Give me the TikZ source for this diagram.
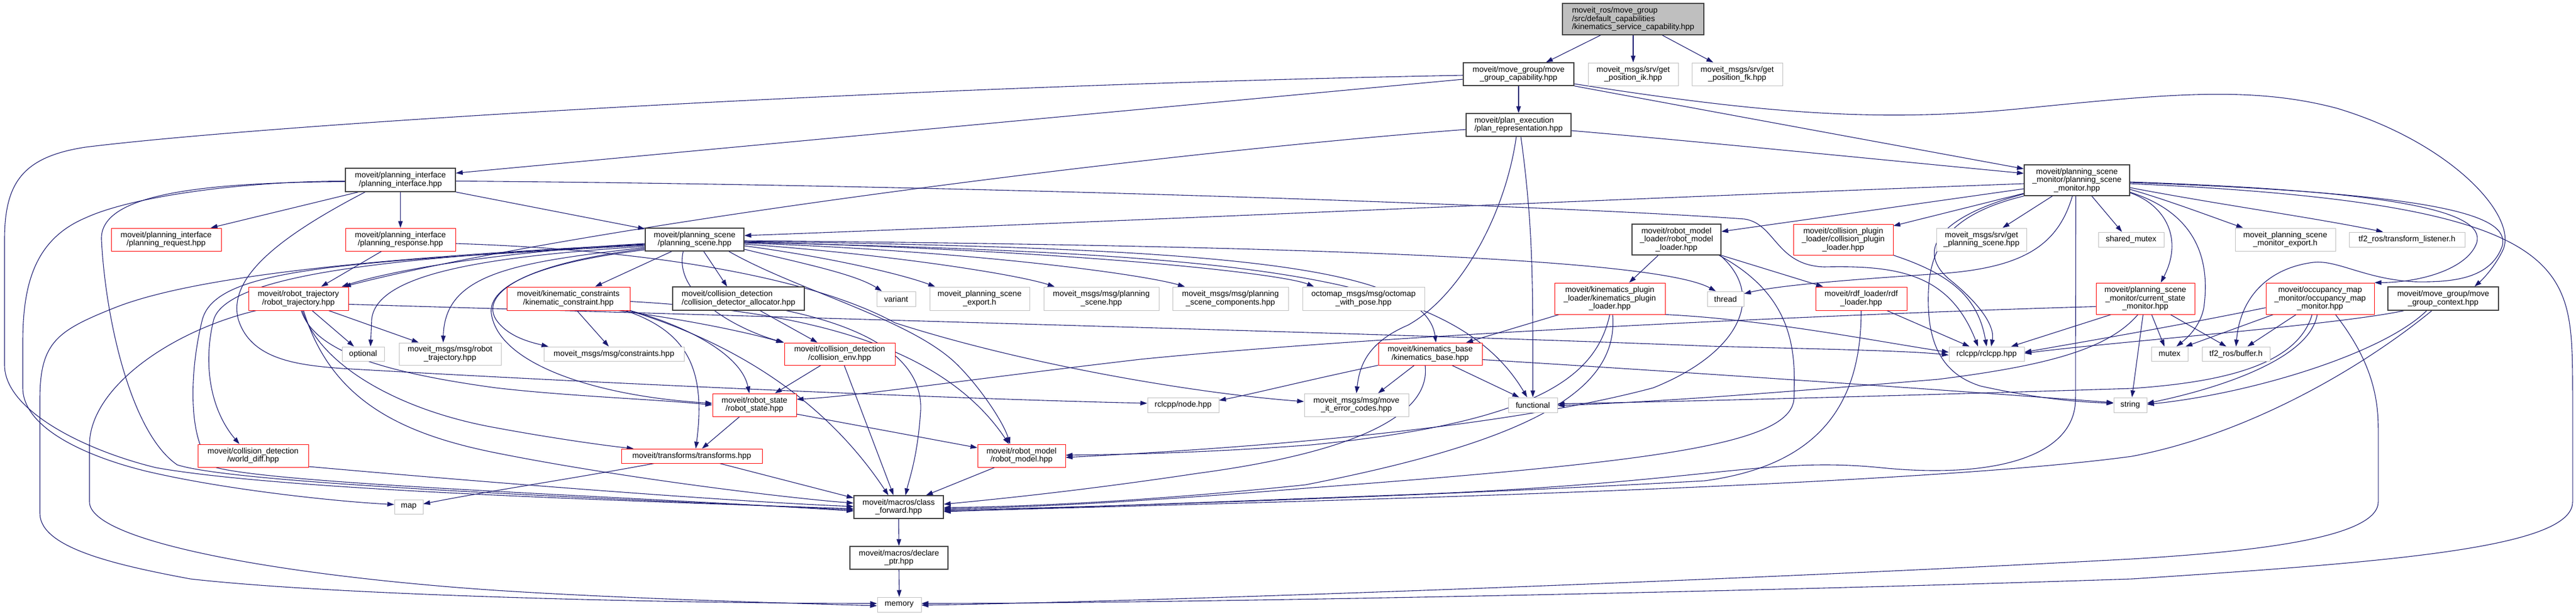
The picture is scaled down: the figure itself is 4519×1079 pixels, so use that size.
\documentclass[tikz,border=0pt]{standalone}
\usepackage{fontspec}
\setmainfont{Liberation Sans}
\usetikzlibrary{arrows.meta}
\definecolor{ec}{HTML}{191970}
\definecolor{gb}{HTML}{BFBFBF}
\definecolor{db}{HTML}{404040}
\pgfdeclarelayer{bg}
\pgfsetlayers{bg,main}
\tikzset{
 base/.style={rectangle, inner sep=0pt, font=\fontsize{14}{14.5}\selectfont, align=center, line width=1pt, fill=white},
 bn/.style={base, draw=db, line width=1.4pt},
 rn/.style={base, draw=red},
 gn/.style={base, draw=gb},
 e/.style={draw=ec, line width=1.1pt, -{Triangle[length=12pt,width=8pt]}},
}
\begin{document}
\begin{tikzpicture}[x=1pt,y=-1pt]
\useasboundingbox (0,0) rectangle (4519,1079);
% nodes
\node[bn, fill=gb, align=left, minimum width=248pt, minimum height=55pt] (root) at (2865,33.5) {moveit\_ros/move\_group\\/src/default\_capabilities\\/kinematics\_service\_capability.hpp};
\node[bn, minimum width=194pt, minimum height=40pt] (mgcap) at (2664,130) {moveit/move\_group/move\\\_group\_capability.hpp};
\node[gn, minimum width=158pt, minimum height=40pt] (gpik) at (2865,130) {moveit\_msgs/srv/get\\\_position\_ik.hpp};
\node[gn, minimum width=159pt, minimum height=40pt] (gpfk) at (3047.5,130) {moveit\_msgs/srv/get\\\_position\_fk.hpp};
\node[bn, align=left, minimum width=184pt, minimum height=40pt] (planrep) at (2664,219) {moveit/plan\_execution\\/plan\_representation.hpp};
\node[bn, minimum width=193pt, minimum height=41pt] (pi) at (702.5,315.5) {moveit/planning\_interface\\/planning\_interface.hpp};
\node[bn, minimum width=185pt, minimum height=54pt] (psm) at (3643.5,316) {moveit/planning\_scene\\\_monitor/planning\_scene\\\_monitor.hpp};
\node[rn, minimum width=193pt, minimum height=40pt] (preq) at (291.5,420) {moveit/planning\_interface\\/planning\_request.hpp};
\node[rn, minimum width=193pt, minimum height=40pt] (presp) at (702.5,420) {moveit/planning\_interface\\/planning\_response.hpp};
\node[bn, minimum width=173pt, minimum height=40pt] (ps) at (1218.5,420) {moveit/planning\_scene\\/planning\_scene.hpp};
\node[bn, minimum width=156pt, minimum height=54pt] (rml) at (2941,420) {moveit/robot\_model\\\_loader/robot\_model\\\_loader.hpp};
\node[rn, minimum width=175pt, minimum height=54pt] (cpl) at (3233.5,420) {moveit/collision\_plugin\\\_loader/collision\_plugin\\\_loader.hpp};
\node[gn, minimum width=158pt, minimum height=40pt] (gps) at (3476,420) {moveit\_msgs/srv/get\\\_planning\_scene.hpp};
\node[gn, minimum width=115pt, minimum height=26pt] (smutex) at (3738.5,420) {shared\_mutex};
\node[gn, minimum width=176pt, minimum height=40pt] (psme) at (4009,420) {moveit\_planning\_scene\\\_monitor\_export.h};
\node[gn, minimum width=203pt, minimum height=26pt] (tfl) at (4222.5,420) {tf2\_ros/transform\_listener.h};
\node[rn, minimum width=175pt, minimum height=41pt] (rtraj) at (523.5,523.5) {moveit/robot\_trajectory\\/robot\_trajectory.hpp};
\node[rn, minimum width=216pt, minimum height=41pt] (kc) at (997,523.5) {moveit/kinematic\_constraints\\/kinematic\_constraint.hpp};
\node[bn, align=left, minimum width=231pt, minimum height=41pt] (cda) at (1295.5,523.5) {moveit/collision\_detection\\/collision\_detector\_allocator.hpp};
\node[gn, minimum width=68pt, minimum height=26pt] (variant) at (1572,524) {variant};
\node[gn, minimum width=175pt, minimum height=41pt] (pse) at (1718.5,523.5) {moveit\_planning\_scene\\\_export.h};
\node[gn, minimum width=202pt, minimum height=41pt] (mps) at (1932,523.5) {moveit\_msgs/msg/planning\\\_scene.hpp};
\node[gn, minimum width=203pt, minimum height=41pt] (mpsc) at (2158.5,523.5) {moveit\_msgs/msg/planning\\\_scene\_components.hpp};
\node[gn, minimum width=214pt, minimum height=41pt] (octo) at (2392,523.5) {octomap\_msgs/msg/octomap\\\_with\_pose.hpp};
\node[rn, minimum width=194pt, minimum height=55pt] (kpl) at (2824,523.5) {moveit/kinematics\_plugin\\\_loader/kinematics\_plugin\\\_loader.hpp};
\node[gn, minimum width=64pt, minimum height=26pt] (thread) at (3027,524) {thread};
\node[rn, minimum width=160pt, minimum height=41pt] (rdf) at (3265,523.5) {moveit/rdf\_loader/rdf\\\_loader.hpp};
\node[rn, minimum width=173pt, minimum height=55pt] (csm) at (3763.5,523.5) {moveit/planning\_scene\\\_monitor/current\_state\\\_monitor.hpp};
\node[rn, minimum width=190pt, minimum height=55pt] (omm) at (4070,523.5) {moveit/occupancy\_map\\\_monitor/occupancy\_map\\\_monitor.hpp};
\node[bn, minimum width=194pt, minimum height=41pt] (mgc) at (4286,523.5) {moveit/move\_group/move\\\_group\_context.hpp};
\node[gn, minimum width=74pt, minimum height=25pt] (optional) at (637,620.5) {optional};
\node[gn, minimum width=179pt, minimum height=39pt] (mrt) at (789.5,620.5) {moveit\_msgs/msg/robot\\\_trajectory.hpp};
\node[gn, minimum width=246pt, minimum height=25pt] (cons) at (1077,620.5) {moveit\_msgs/msg/constraints.hpp};
\node[rn, minimum width=194pt, minimum height=39pt] (cenv) at (1473,620.5) {moveit/collision\_detection\\/collision\_env.hpp};
\node[rn, minimum width=182pt, minimum height=39pt] (kbase) at (2509,620.5) {moveit/kinematics\_base\\/kinematics\_base.hpp};
\node[gn, minimum width=132pt, minimum height=25pt] (rclcpp) at (3485,620.5) {rclcpp/rclcpp.hpp};
\node[gn, minimum width=64pt, minimum height=25pt] (mutex) at (3806,620.5) {mutex};
\node[gn, minimum width=119pt, minimum height=25pt] (buffer) at (3922.5,620.5) {tf2\_ros/buffer.h};
\node[rn, minimum width=147pt, minimum height=40pt] (rstate) at (1323.5,710) {moveit/robot\_state\\/robot\_state.hpp};
\node[gn, minimum width=125pt, minimum height=26pt] (node) at (2075.5,710) {rclcpp/node.hpp};
\node[gn, minimum width=183pt, minimum height=40pt] (errc) at (2379.5,710) {moveit\_msgs/msg/move\\\_it\_error\_codes.hpp};
\node[gn, minimum width=86pt, minimum height=26pt] (functional) at (2689,710) {functional};
\node[gn, minimum width=58pt, minimum height=26pt] (string) at (3737,710) {string};
\node[rn, minimum width=194pt, minimum height=40pt] (wdiff) at (444,799) {moveit/collision\_detection\\/world\_diff.hpp};
\node[rn, minimum width=247pt, minimum height=25pt] (transforms) at (1213.5,799.5) {moveit/transforms/transforms.hpp};
\node[rn, minimum width=154pt, minimum height=40pt] (rmodel) at (1792,799) {moveit/robot\_model\\/robot\_model.hpp};
\node[gn, minimum width=50pt, minimum height=25pt] (map) at (717,888.5) {map};
\node[bn, minimum width=157pt, minimum height=40pt] (cf) at (1576.5,889) {moveit/macros/class\\\_forward.hpp};
\node[bn, minimum width=172pt, minimum height=40pt] (dp) at (1577,978) {moveit/macros/declare\\\_ptr.hpp};
\node[gn, minimum width=77pt, minimum height=26pt] (memory) at (1577.5,1060) {memory};
\begin{pgfonlayer}{bg}
% root
\draw[e] ([xshift=-57pt]root.south) -- ([xshift=48pt]mgcap.north);
\draw[e] (root.south) -- (gpik.north);
\draw[e] ([xshift=51pt]root.south) -- ([xshift=-42pt]gpfk.north);
% mgcap
\draw[e] (mgcap.south) -- (planrep.north);
\draw[e] ([yshift=-9pt]mgcap.west) -- ([yshift=12pt]pi.east);
\draw[e] ([yshift=-2pt]mgcap.west) .. controls (1600,150) and (500,215) .. (150,258) .. controls (40,275) and (8,320) .. (8,420) -- (8,640) .. controls (8,720) and (150,790) .. (274,820) .. controls (500,860) and (1100,878) .. ([yshift=-3pt]cf.west);
\draw[e] (mgcap.south east) .. controls (3000,195) and (3300,250) .. ([yshift=20pt]psm.west);
\draw[e] ([yshift=-17pt]mgcap.east) .. controls (3100,200) and (3300,215) .. (3550,190) .. controls (3800,165) and (3950,150) .. (4100,190) .. controls (4300,250) and (4420,380) .. (4390,440) .. controls (4375,470) and (4355,490) .. ([xshift=55pt]mgc.north);
% planrep
\draw[e] ([yshift=-8pt]planrep.west) .. controls (2000,270) and (1000,400) .. ([xshift=-8pt]rtraj.north east);
\draw[e] ([yshift=-10pt]planrep.east) .. controls (3000,250) and (3300,280) .. ([yshift=12pt]psm.west);
\draw[e] ([xshift=-4pt]planrep.south) .. controls (2640,380) and (2560,520) .. (2470,570) .. controls (2400,600) and (2385,640) .. (errc.north);
\draw[e] ([xshift=4pt]planrep.south) .. controls (2690,400) and (2689,500) .. (functional.north);
% pi
\draw[e] ([yshift=-2pt]pi.west) .. controls (420,318) and (230,345) .. (150,382) .. controls (60,420) and (40,500) .. (40,600) -- (40,680) .. controls (40,750) and (150,800) .. (256,826) .. controls (400,860) and (600,880) .. ([yshift=4pt]map.west);
\draw[e] ([xshift=-74pt]pi.south) -- ([xshift=78pt]preq.north);
\draw[e] (pi.south) -- (presp.north);
\draw[e] (pi.south east) -- ([yshift=-2pt]ps.north west);
\draw[e] ([yshift=-3pt]pi.west) .. controls (330,320) and (175,345) .. (178,420) .. controls (185,560) and (230,760) .. (311,815) .. controls (420,850) and (1100,875) .. ([yshift=-5pt]cf.west);
\draw[e] ([xshift=-62pt]pi.south) .. controls (480,420) and (400,490) .. (418,560) .. controls (440,630) and (520,640) .. (600,646) .. controls (1100,675) and (1700,700) .. ([yshift=3pt]node.west);
\draw[e] ([yshift=-2pt]pi.east) .. controls (1800,325) and (2800,365) .. (3060,384) .. controls (3115,392) and (3115,465) .. (3200,468) .. controls (3330,465) and (3420,480) .. ([xshift=-15pt]rclcpp.north);
% presp
\draw[e] ([xshift=-33pt]presp.south) -- ([xshift=40pt]rtraj.north);
\draw[e] ([yshift=-7pt]presp.east) .. controls (1200,440) and (1450,500) .. (1570,566) .. controls (1800,640) and (2100,690) .. ([yshift=6pt]errc.west);
% ps
\draw[e] ([yshift=-7pt]ps.west) .. controls (900,440) and (700,470) .. ([xshift=-12pt]rtraj.north east);
\draw[e] ([xshift=-40pt]ps.south) -- ([xshift=47pt]kc.north);
\draw[e] ([xshift=16pt]ps.south) -- ([xshift=-20pt]cda.north);
\draw[e] ([yshift=-17pt]ps.east) .. controls (1400,460) and (1500,480) .. ([xshift=-25pt]variant.north);
\draw[e] ([yshift=-11pt]ps.east) .. controls (1450,450) and (1580,480) .. ([xshift=-78pt]pse.north);
\draw[e] ([yshift=-8pt]ps.east) .. controls (1550,445) and (1780,480) .. ([xshift=-82pt]mps.north);
\draw[e] ([yshift=-6pt]ps.east) .. controls (1700,440) and (2000,480) .. ([xshift=-80pt]mpsc.north);
\draw[e] ([yshift=-4pt]ps.east) .. controls (1900,440) and (2250,480) .. ([xshift=-87pt]octo.north);
\draw[e] ([yshift=-2pt]ps.east) .. controls (2200,430) and (2900,450) .. ([xshift=-17pt]thread.north);
\draw[e] ([yshift=-3pt]ps.east) .. controls (2100,435) and (2500,460) .. ([xshift=10pt]kbase.north);
\draw[e] ([yshift=-5pt]ps.east) .. controls (2200,445) and (2550,480) .. ([xshift=-10pt]functional.north);
\draw[e] ([yshift=-12pt]ps.west) .. controls (850,450) and (660,480) .. (652,560) -- ([xshift=13pt]optional.north);
\draw[e] ([yshift=-14pt]ps.west) .. controls (900,460) and (780,480) .. ([xshift=-12pt]mrt.north);
\draw[e] ([yshift=-16pt]ps.west) .. controls (900,465) and (845,520) .. (870,560) .. controls (890,590) and (930,600) .. ([xshift=-115pt]cons.north);
\draw[e] ([yshift=-9pt]ps.west) .. controls (700,450) and (400,480) .. (375,560) .. controls (355,640) and (370,720) .. ([xshift=-24pt]wdiff.north);
\draw[e] ([yshift=-10pt]ps.west) .. controls (600,460) and (380,470) .. (355,560) .. controls (330,660) and (330,790) .. (380,820) .. controls (500,850) and (1100,870) .. ([yshift=-7pt]cf.west);
\draw[e] ([yshift=-8pt]ps.west) .. controls (700,450) and (350,480) .. (200,540) .. controls (100,580) and (70,600) .. (70,700) -- (70,900) .. controls (70,960) and (200,990) .. (334,1015) .. controls (600,1045) and (1200,1058) .. ([yshift=2pt]memory.west);
\draw[e] ([yshift=-18pt]ps.west) .. controls (950,460) and (855,500) .. (862,550) .. controls (875,640) and (1050,695) .. ([yshift=3pt]rstate.west);
\draw[e] ([xshift=60pt]ps.south) .. controls (1400,510) and (1600,560) .. (1680,640) .. controls (1720,680) and (1760,740) .. ([xshift=-20pt]rmodel.north);
\draw[e] ([xshift=-20pt]ps.south) .. controls (1180,520) and (1300,580) .. (cenv.north west);
% rtraj
\draw[e] ([xshift=24pt]rtraj.south) -- ([xshift=-16pt]optional.north);
\draw[e] ([xshift=53pt]rtraj.south) -- ([xshift=-55pt]mrt.north);
\draw[e] ([xshift=5pt]rtraj.south) .. controls (550,610) and (650,650) .. (870,680) .. controls (1000,695) and (1150,700) .. (rstate.west);
\draw[e] ([xshift=7pt]rtraj.south) .. controls (560,640) and (700,720) .. (870,750) .. controls (950,765) and (1050,780) .. ([xshift=-102pt]transforms.north);
\draw[e] ([xshift=9pt]rtraj.south) .. controls (580,700) and (700,760) .. (870,794) .. controls (1100,840) and (1400,875) .. ([yshift=7pt]cf.west);
\draw[e] ([xshift=-74pt]rtraj.south) .. controls (300,580) and (157,680) .. (157,780) -- (157,880) .. controls (157,950) and (500,1010) .. (870,1035) .. controls (1100,1050) and (1400,1058) .. ([yshift=-2pt]memory.west);
\draw[e] ([yshift=-10pt]rtraj.east) .. controls (1500,560) and (2600,590) .. (3000,607) .. controls (3200,612) and (3350,615) .. ([yshift=-2pt]rclcpp.west);
% kc
\draw[e] ([xshift=15pt]kc.south) -- ([xshift=-9pt]cons.north);
\draw[e] ([xshift=88pt]kc.south) .. controls (1200,560) and (1300,580) .. ([xshift=-2pt]cenv.north west);
\draw[e] (kc.south east) .. controls (1200,570) and (1300,620) .. ([xshift=-9pt]rstate.north);
\draw[e] ([xshift=-8pt]kc.south east) .. controls (1200,580) and (1240,640) .. ([xshift=7pt]transforms.north);
\draw[e] ([xshift=-2pt]kc.south east) .. controls (1350,620) and (1480,750) .. ([xshift=-18pt]cf.north);
\draw[e] ([yshift=-5pt]kc.east) .. controls (1400,545) and (1650,600) .. ([xshift=-22pt]rmodel.north);
% cda
\draw[e] ([xshift=38pt]cda.south) -- ([xshift=-39pt]cenv.north);
\draw[e] ([xshift=84pt]cda.south) .. controls (1500,570) and (1620,620) .. (1615,720) .. controls (1610,800) and (1595,840) .. ([xshift=12pt]cf.north);
% cenv, rstate, transforms, wdiff, rmodel
\draw[e] ([xshift=-33pt]cenv.south) -- ([xshift=36pt]rstate.north);
\draw[e] ([xshift=8pt]cenv.south) -- ([xshift=-9pt]cf.north);
\draw[e] ([xshift=-26pt]rstate.south) -- ([xshift=18pt]transforms.north);
\draw[e] ([yshift=-16pt]rstate.east) -- ([yshift=14pt]rmodel.west);
\draw[e] ([xshift=-66pt]transforms.south) .. controls (1000,840) and (850,862) .. ([yshift=5pt]map.east);
\draw[e] ([xshift=49pt]transforms.south) -- ([yshift=16pt]cf.west);
\draw[e] ([yshift=-19pt]wdiff.east) .. controls (900,850) and (1300,880) .. ([yshift=1pt]cf.west);
\draw[e] ([xshift=-47pt]rmodel.south) -- ([xshift=48pt]cf.north);
\draw[e] (cf.south) -- (dp.north);
\draw[e] (dp.south) -- (memory.north);
% kbase
\draw[e] ([xshift=-28pt]kbase.south) -- ([xshift=38pt]errc.north);
\draw[e] ([xshift=38pt]kbase.south) -- ([xshift=-24pt]functional.north);
\draw[e] ([xshift=-9pt]kbase.south) .. controls (2510,720) and (2400,790) .. (2100,830) .. controls (1900,860) and (1750,875) .. ([yshift=5pt]cf.east);
\draw[e] ([yshift=-10pt]kbase.east) .. controls (3000,655) and (3500,690) .. ([yshift=4pt]string.west);
\draw[e] (kbase.south west) .. controls (2300,665) and (2200,690) .. ([yshift=8pt]node.east);
% kpl
\draw[e] ([xshift=-89pt]kpl.south) -- ([xshift=63pt]kbase.north);
\draw[e] (kpl.south) .. controls (2800,660) and (2700,740) .. (2300,780) .. controls (2100,795) and (1950,797) .. ([yshift=1pt]rmodel.east);
\draw[e] ([xshift=5pt]kpl.south) .. controls (2840,680) and (2700,770) .. (2290,850) .. controls (2000,880) and (1800,888) .. ([yshift=-1pt]cf.east);
\draw[e] (kpl.south east) .. controls (3100,560) and (3300,600) .. ([yshift=3pt]rclcpp.west);
% rml
\draw[e] ([xshift=-32pt]rml.south) -- ([xshift=34pt]kpl.north);
\draw[e] (rml.south east) -- ([xshift=-67pt]rdf.north);
\draw[e] ([xshift=-2pt]rml.south east) .. controls (3100,520) and (3050,620) .. (2900,680) .. controls (2600,760) and (2100,790) .. ([yshift=-3pt]rmodel.east);
\draw[e] ([xshift=-4pt]rml.south east) .. controls (3150,520) and (3150,620) .. (3147,700) .. controls (3140,780) and (2900,810) .. (2290,856) .. controls (2000,880) and (1800,890) .. ([yshift=-3pt]cf.east);
% rdf, cpl
\draw[e] ([xshift=45pt]rdf.south) -- ([xshift=-30pt]rclcpp.north);
\draw[e] (rdf.south) .. controls (3265,700) and (3200,815) .. (2990,843) .. controls (2500,870) and (1900,890) .. ([yshift=-5pt]cf.east);
\draw[e] (cpl.south east) .. controls (3420,480) and (3470,520) .. (rclcpp.north);
% psm
\draw[e] ([yshift=-6pt]psm.west) .. controls (2800,350) and (1800,395) .. ([yshift=7pt]ps.east);
\draw[e] ([yshift=-15pt]psm.west) -- ([yshift=14pt]rml.east);
\draw[e] ([yshift=-23pt]psm.west) -- ([yshift=24pt]cpl.east);
\draw[e] ([xshift=-43pt]psm.south) -- ([xshift=37pt]gps.north);
\draw[e] ([xshift=26pt]psm.south) -- ([xshift=-16pt]smutex.north);
\draw[e] ([xshift=-8pt]psm.south) .. controls (3610,430) and (3550,470) .. (3400,480) .. controls (3250,490) and (3120,500) .. ([yshift=9pt]thread.east);
\draw[e] ([yshift=-24pt]psm.west) .. controls (3400,380) and (3360,440) .. (3420,490) .. controls (3470,530) and (3500,570) .. ([xshift=8pt]rclcpp.north);
\draw[e] (psm.south west) .. controls (3400,380) and (3380,450) .. (3383,540) .. controls (3386,620) and (3420,660) .. (3475,677) .. controls (3580,700) and (3650,705) .. ([yshift=3pt]string.west);
\draw[e] ([xshift=-2pt]psm.south) -- (3641,700) .. controls (3640,800) and (3500,840) .. (3300,820) .. controls (3100,800) and (3000,845) .. (2500,866) .. controls (2000,885) and (1800,893) .. ([yshift=-7pt]cf.east);
\draw[e] ([yshift=-22pt]psm.east) .. controls (3800,360) and (3830,420) .. ([xshift=27pt]csm.north);
\draw[e] ([yshift=-21pt]psm.east) .. controls (3840,370) and (3880,440) .. (3866,540) .. controls (3860,570) and (3840,590) .. ([xshift=12pt]mutex.north);
\draw[e] ([yshift=-16pt]psm.east) .. controls (3800,350) and (3880,380) .. ([xshift=-74pt]psme.north);
\draw[e] ([yshift=-13pt]psm.east) .. controls (3900,360) and (4050,380) .. ([xshift=-42pt]tfl.north);
\draw[e] ([yshift=-3pt]psm.east) .. controls (4200,335) and (4360,370) .. (4345,425) .. controls (4330,470) and (4250,495) .. (omm.north east);
\draw[e] ([yshift=-4pt]psm.east) .. controls (4300,340) and (4400,380) .. (4390,430) .. controls (4370,490) and (4300,495) .. (4237,494) .. controls (4150,490) and (4100,455) .. (4058,460) .. controls (3980,470) and (3930,520) .. (buffer.north);
\draw[e] ([yshift=-6pt]psm.east) .. controls (4250,345) and (4420,400) .. (4480,490) .. controls (4513,540) and (4513,600) .. (4513,700) -- (4513,880) .. controls (4513,960) and (4200,985) .. (3740,1015) .. controls (3000,1040) and (2000,1058) .. ([yshift=2pt]memory.east);
% csm
\draw[e] ([yshift=-14pt]csm.west) .. controls (3400,545) and (2500,580) .. (2000,630) .. controls (1700,665) and (1500,695) .. ([yshift=10pt]rstate.east);
\draw[e] ([xshift=-60pt]csm.south) -- ([xshift=43pt]rclcpp.north);
\draw[e] ([xshift=-4pt]csm.south) -- ([xshift=3pt]string.north);
\draw[e] ([xshift=11pt]csm.south) -- ([xshift=-9pt]mutex.north);
\draw[e] ([xshift=44pt]csm.south) -- ([xshift=-17pt]buffer.north);
\draw[e] ([xshift=-13pt]csm.south) .. controls (3700,610) and (3600,640) .. (3400,665) .. controls (3100,690) and (2900,705) .. ([yshift=-1pt]functional.east);
% omm
\draw[e] ([yshift=-16pt]omm.west) .. controls (3800,575) and (3650,600) .. ([yshift=3pt]rclcpp.east);
\draw[e] ([xshift=-82pt]omm.south) -- ([xshift=28pt]mutex.north);
\draw[e] ([xshift=-42pt]omm.south) -- ([xshift=20pt]buffer.north);
\draw[e] ([xshift=-5pt]omm.south) .. controls (4050,640) and (3850,690) .. ([yshift=3pt]string.east);
\draw[e] ([xshift=-14pt]omm.south) .. controls (4030,640) and (3900,670) .. (3740,681) .. controls (3300,695) and (2900,705) .. ([yshift=2pt]functional.east);
\draw[e] ([xshift=27pt]omm.south) .. controls (4150,620) and (4172,680) .. (4172,750) -- (4172,880) .. controls (4172,950) and (3900,970) .. (3740,980) .. controls (3000,1020) and (2000,1055) .. ([yshift=-1pt]memory.east);
% mgc
\draw[e] ([xshift=-69pt]mgc.south) .. controls (4100,570) and (3700,600) .. ([yshift=1pt]rclcpp.east);
\draw[e] ([xshift=-29pt]mgc.south) .. controls (4180,620) and (3950,690) .. ([yshift=1pt]string.east);
\draw[e] ([xshift=-20pt]mgc.south) .. controls (4150,640) and (3950,760) .. (3740,800) .. controls (3300,860) and (2000,885) .. ([yshift=-8pt]cf.east);
\end{pgfonlayer}
\end{tikzpicture}
\end{document}
